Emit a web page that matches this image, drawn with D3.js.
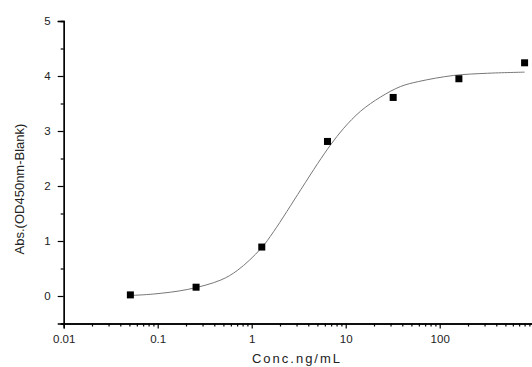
<!doctype html>
<html>
<head>
    <meta charset="utf-8"/>
    <style>
        html, body {
            margin: 0;
            padding: 0;
            background: #fff;
        }
        svg text {
            font-family: "Liberation Sans", Arial, sans-serif;
            fill: #222;
        }
    </style>
    <script src="https://d3js.org/d3.v7.min.js"></script>
</head>
<body>
<svg width="532" height="367"></svg>
<script>

    // Measured standards (5-fold dilutions)
    var conc = [0.0512, 0.256, 1.28, 6.4, 32, 160, 800];
    var absorb = [0.02, 0.16, 0.89, 2.81, 3.61, 3.95, 4.24];

    // Fitted curve
    var curveConc = [0.0516, 0.0906, 0.209, 0.468, 0.71, 1.25, 1.71, 3.32, 5.04, 6.92, 9.52, 14.4, 23.6, 38.5, 59.8, 141, 324, 802];
    var curveAbs = [0.01, 0.036, 0.12, 0.29, 0.47, 0.86, 1.17, 1.93, 2.41, 2.75, 3.05, 3.36, 3.62, 3.81, 3.90, 4.01, 4.05, 4.07];

    var xTicks = [0.01, 0.1, 1, 10, 100];
    var yTicks = [0, 1, 2, 3, 4, 5];

    var svg = d3.select("svg");

    var x = d3.scaleLog().domain([0.01, 1000]).range([63.7, 533.7]);
    var y = d3.scaleLinear().domain([-0.5, 5]).range([323.5, 21]);

    // minor ticks for x: 2..9 in every decade
    var xMinor = [];
    xTicks.forEach(function(d) {
        for (var k = 2; k <= 9; k++) xMinor.push(d * k);
    });
    var yMinor = [-0.5, 0.5, 1.5, 2.5, 3.5, 4.5];

    // x axis
    var gx = svg.append("g").attr("transform", "translate(0," + y(-0.5) + ")");
    gx.call(d3.axisBottom(x).tickValues(xMinor).tickSize(3).tickFormat(""));
    gx.append("g").call(d3.axisBottom(x).tickValues(xTicks).tickSize(5).tickPadding(6)
        .tickFormat(function(d) { return d3.format("~g")(d); }));
    gx.selectAll(".domain").attr("stroke", "#000").attr("stroke-width", 1.3);
    gx.selectAll(".tick line").attr("stroke", "#000").attr("stroke-width", 1.2);
    gx.selectAll("text").style("font-size", "11.5px").attr("fill", "#222");
    gx.select("g").select(".domain").remove();

    // y axis
    var gy = svg.append("g").attr("transform", "translate(" + x(0.01) + ",0)");
    gy.call(d3.axisLeft(y).tickValues(yMinor).tickSize(3).tickFormat(""));
    gy.append("g").call(d3.axisLeft(y).tickValues(yTicks).tickSize(6).tickPadding(7).tickFormat(d3.format("d")));
    gy.selectAll(".domain").attr("stroke", "#000").attr("stroke-width", 1.3);
    gy.selectAll(".tick line").attr("stroke", "#000").attr("stroke-width", 1.2);
    gy.selectAll("text").style("font-size", "11.5px").attr("fill", "#222");
    gy.select("g").select(".domain").remove();

    // fitted curve
    var pts = curveConc.map(function(c, i) { return [x(c), y(curveAbs[i])]; });
    svg.append("path")
        .attr("d", d3.line().curve(d3.curveCatmullRom.alpha(0.5))(pts))
        .attr("fill", "none")
        .attr("stroke", "#777")
        .attr("stroke-width", 1);

    // points
    svg.selectAll("rect.pt")
        .data(conc).enter()
        .append("rect")
        .attr("class", "pt")
        .attr("x", function(d) { return x(d) - 3.5; })
        .attr("y", function(d, i) { return y(absorb[i]) - 3.5; })
        .attr("width", 7)
        .attr("height", 7)
        .attr("fill", "#000");

    // titles
    svg.append("text")
        .attr("x", 297).attr("y", 363)
        .attr("text-anchor", "middle")
        .style("font-size", "13px")
        .style("letter-spacing", "2px")
        .text("Conc.ng/mL");

    svg.append("text")
        .attr("transform", "translate(24,189) rotate(-90)")
        .attr("text-anchor", "middle")
        .style("font-size", "13px")
        .text("Abs.(OD450nm-Blank)");

</script>
</body>
</html>
